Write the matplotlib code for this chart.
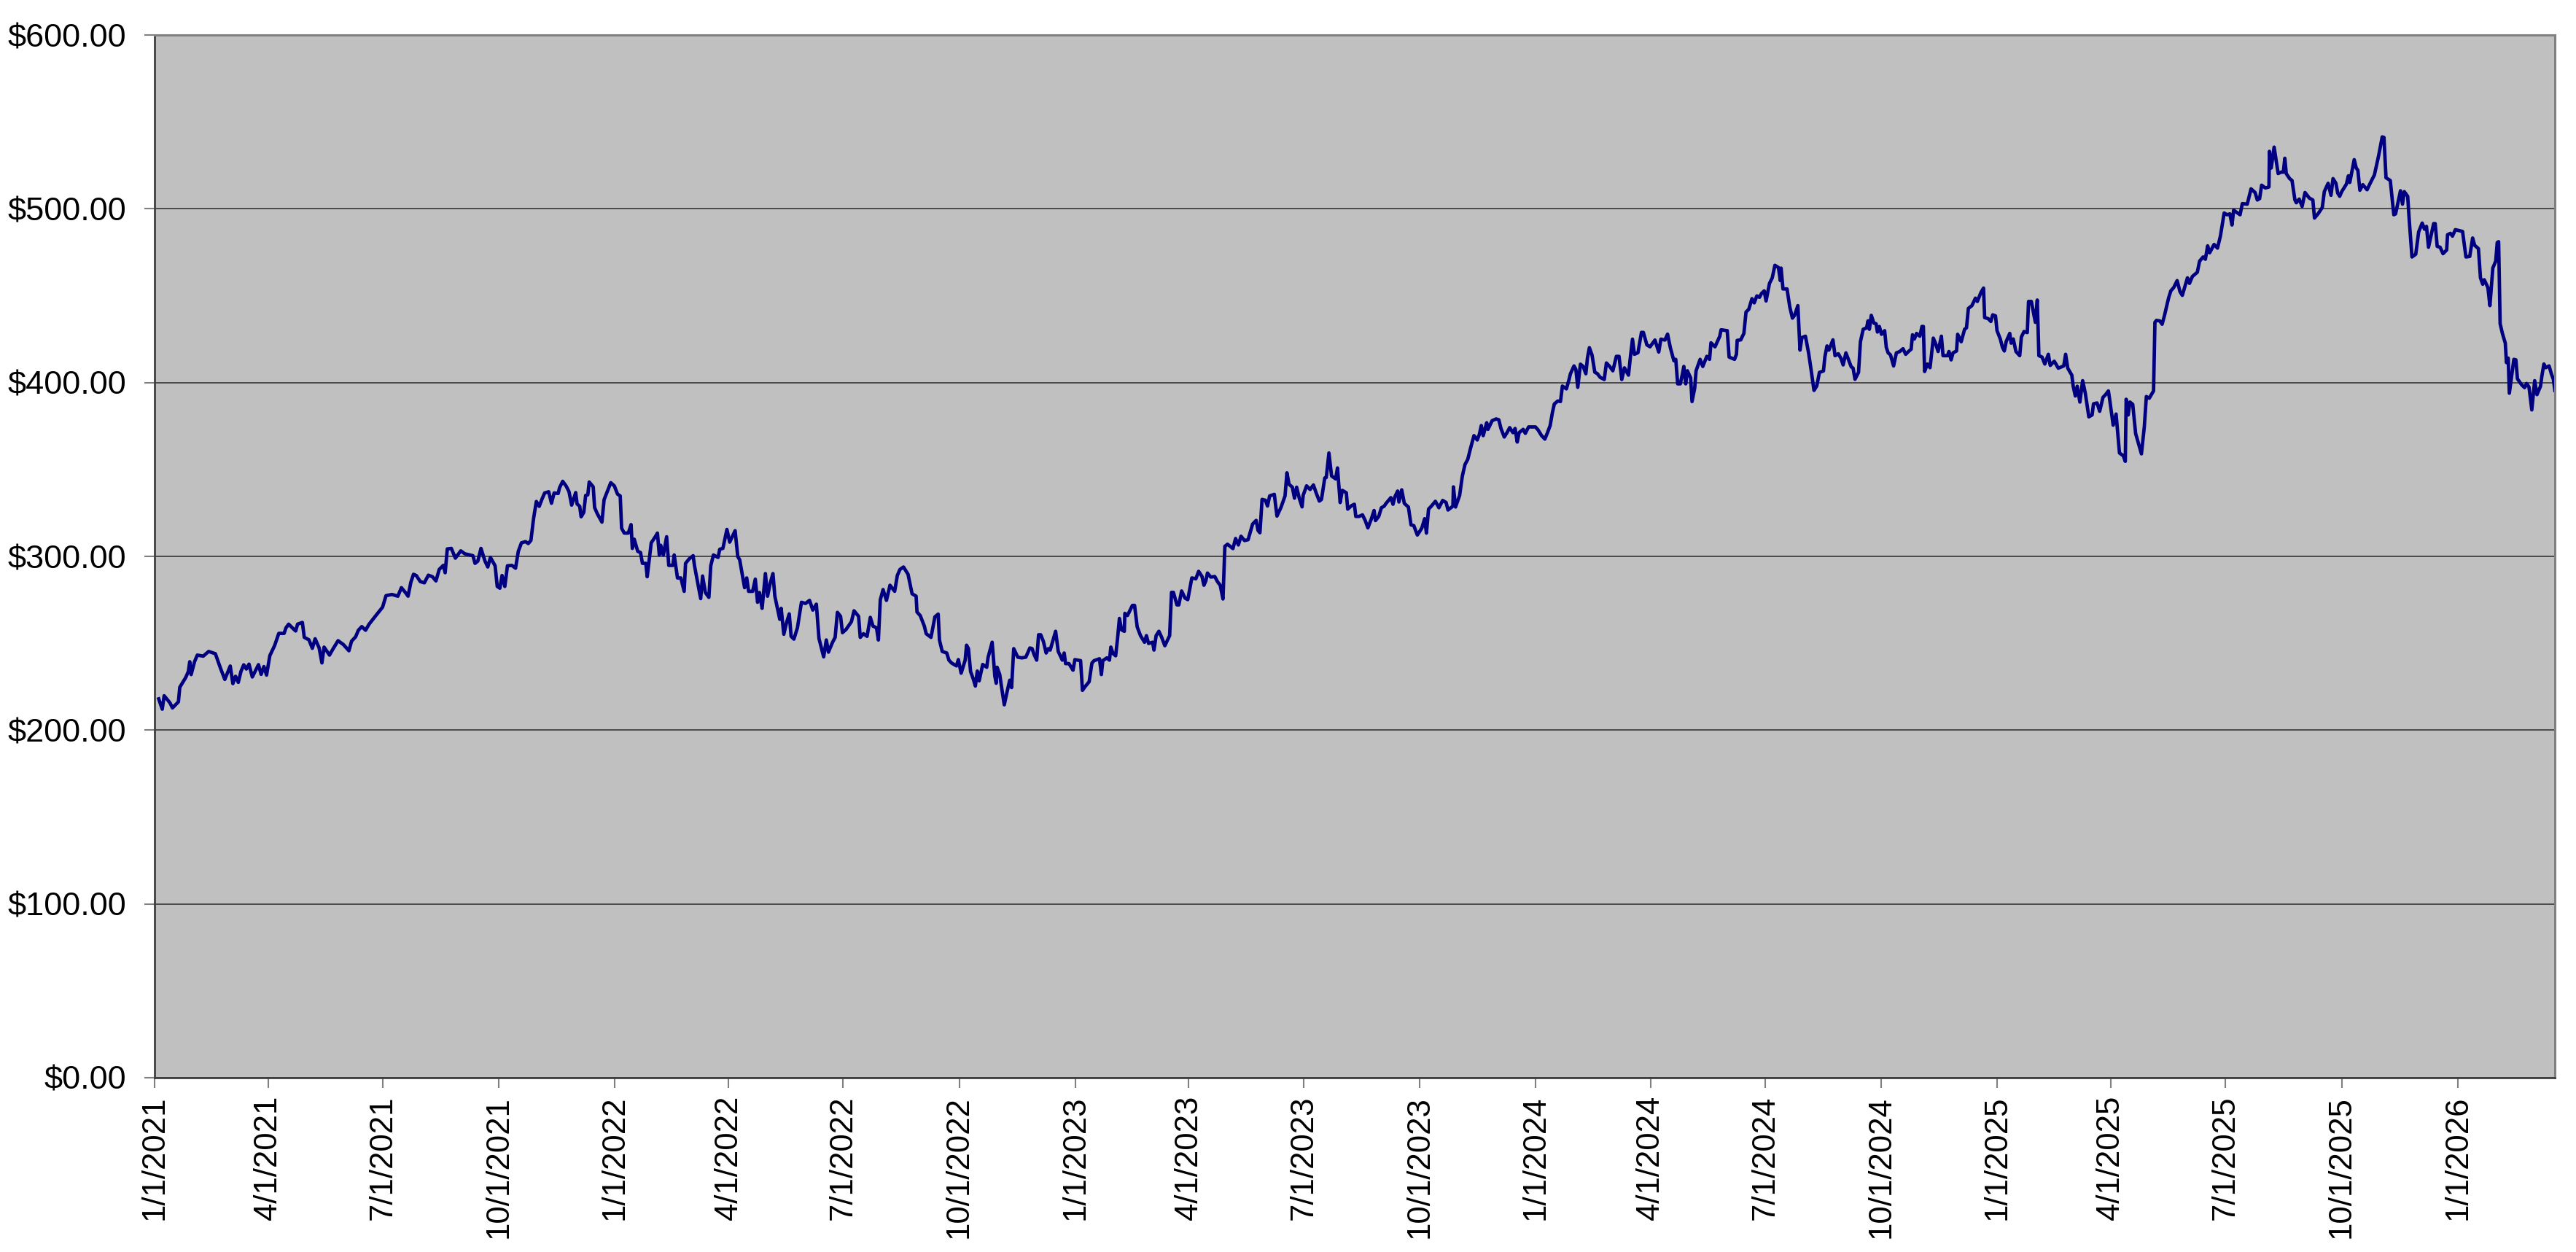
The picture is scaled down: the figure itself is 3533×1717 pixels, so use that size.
import matplotlib
matplotlib.use('Agg')

import matplotlib.pyplot as plt
import matplotlib.ticker as mticker
import numpy as np
import pandas as pd

START = pd.Timestamp('2021-01-01')

# trading days as day offsets from 1/1/2021, closing price
days_2021 = [3.3, 6.1, 7.6, 10.8, 12.3, 14.2, 18.9, 20.0, 24.7, 26.8, 27.9, 29.0, 31.7, 33.9, 38.6, 42.9,
             48.2, 52.5, 55.7, 60.0, 62.1, 64.2, 66.4, 68.5, 70.7, 72.8, 74.9, 77.5, 82.4, 84.5, 86.7, 88.8,
             91.4, 95.2, 98.5, 102.7, 104.2, 106.3, 110.2, 111.9, 113.4, 117.2, 118.7, 122.4, 125.1, 127.3,
             130.5, 132.7, 134.4, 138.7, 141.2, 145.5, 149.8, 154.1, 156.2, 159.4, 161.6, 164.3, 167.3, 170.1,
             175.4, 180.8, 183.5, 188.2, 192.9, 195.7, 198.9, 201.0, 203.2, 205.3, 207.5, 210.7, 213.9, 217.1,
             220.3, 223.1, 225.7, 228.9, 230.4, 232.1, 235.3, 238.5, 242.8, 246.0, 252.4, 254.1, 256.3, 258.8,
             262.0, 264.2, 266.3, 270.0, 271.7, 273.8, 275.5, 277.7, 279.8, 283.4, 286.2, 288.4, 290.9, 294.1,
             296.3, 298.4, 300.5, 302.7, 305.0, 307.2, 309.3, 312.5, 314.7, 316.8, 320.0, 321.1, 323.6, 326.4,
             328.6, 330.7, 333.9, 335.0, 337.1, 338.2, 340.3, 341.8, 343.5, 344.6, 347.8, 348.9, 351.0, 354.7,
             356.4, 361.7, 364.5]
close_2021 = [218.0, 212.1, 219.8, 217.0, 215.6, 212.8, 216.3, 224.7, 230.3, 233.8, 239.4, 232.0, 239.4, 243.2,
              242.6, 245.3, 244.0, 235.2, 229.2, 236.9, 226.8, 231.0, 227.5, 233.8, 237.6, 235.2, 238.0, 230.6,
              237.7, 232.1, 236.6, 231.7, 242.9, 248.7, 255.7, 255.7, 258.9, 261.0, 258.2, 257.1, 261.0, 262.0,
              253.4, 252.0, 247.1, 252.6, 247.3, 238.7, 247.8, 243.2, 246.4, 251.5, 249.2, 245.7, 251.2, 253.7,
              257.5, 259.6, 257.5, 261.0, 265.9, 270.8, 277.4, 278.1, 277.1, 282.0, 279.2, 277.1, 285.1, 289.7,
              289.0, 285.5, 284.8, 289.2, 288.3, 285.9, 292.5, 294.8, 290.6, 304.3, 304.6, 299.0, 303.2, 301.5,
              300.4, 296.0, 297.3, 304.6, 297.3, 293.9, 299.4, 294.6, 282.7, 281.7, 289.0, 282.7, 294.6, 294.8,
              293.2, 302.9, 307.8, 308.5, 307.4, 309.2, 321.8, 331.6, 328.8, 333.0, 336.5, 337.2, 330.6, 336.5,
              336.2, 339.5, 343.2, 340.4, 337.2, 329.5, 336.7, 330.2, 328.8, 322.8, 325.3, 335.1, 335.4, 342.8,
              340.0, 328.1, 324.6, 319.7, 332.6, 342.4, 340.6]

days_2022 = [367.1, 369.2, 370.3, 372.4, 375.6, 377.8, 378.8, 380.3, 383.1, 385.3, 386.8, 389.5, 390.6, 393.8,
             397.0, 398.7, 400.2, 401.3, 403.4, 406.0, 407.7, 410.9, 412.0, 414.6, 417.3, 419.9, 421.0, 423.8,
             427.0, 428.1, 433.0, 434.5, 436.7, 439.5, 441.0, 443.1, 446.8, 448.1, 450.6, 453.8, 456.0, 460.3,
             462.4, 463.9, 467.8, 469.5, 471.0, 474.2, 476.3, 478.1, 479.6, 481.7, 484.3, 486.0, 488.2, 490.3,
             491.8, 495.7, 496.8, 498.9, 501.0, 503.2, 504.7, 506.9, 509.7, 512.9, 516.1, 519.3, 521.9, 524.7,
             526.8, 530.5, 532.6, 534.3, 537.5, 539.6, 541.4, 543.9, 545.4, 548.2, 552.5, 554.6, 558.2, 559.5,
             562.1, 564.9, 567.5, 569.6, 572.4, 573.9, 575.4, 577.6, 580.3, 583.1, 586.8, 588.9, 591.0, 593.8,
             597.4, 600.6, 603.8, 604.5, 607.1, 610.3, 611.8, 615.6, 618.7, 621.3, 622.3, 624.5, 628.1, 629.8,
             632.0, 635.8, 637.3, 639.5, 642.7, 643.8, 645.3, 647.0, 649.1, 650.8, 652.3, 653.8, 656.6, 659.8,
             660.9, 664.1, 666.2, 667.3, 668.0, 670.1, 671.6, 673.7, 675.9, 678.0, 679.5, 681.2, 684.4, 687.6,
             690.8, 694.0, 695.8, 697.3, 699.4, 700.9, 702.6, 704.7, 706.9, 708.6, 710.1, 714.4, 716.5, 719.7,
             721.2, 722.3, 725.0, 728.2, 729.7]
close_2022 = [335.8, 334.8, 316.2, 313.4, 313.4, 318.3, 304.6, 309.9, 302.9, 302.2, 296.0, 296.0, 288.3, 307.8,
              311.3, 313.4, 300.8, 306.4, 300.8, 311.3, 294.8, 294.8, 300.8, 287.6, 287.6, 279.9, 296.0, 298.5,
              300.4, 294.6, 275.7, 288.7, 279.2, 276.4, 294.6, 300.8, 299.4, 304.1, 304.6, 315.5, 308.2, 314.8,
              299.9, 298.1, 282.0, 287.6, 279.9, 279.9, 286.9, 273.6, 279.2, 270.1, 290.1, 277.1, 284.8, 290.1,
              277.1, 263.8, 270.1, 255.2, 261.7, 266.9, 254.0, 252.4, 258.9, 273.6, 272.9, 274.7, 269.1, 272.5,
              252.7, 242.2, 251.9, 244.9, 250.5, 253.4, 267.8, 265.5, 256.1, 257.9, 262.4, 268.7, 265.5, 253.4,
              255.5, 254.0, 264.9, 259.9, 258.9, 251.9, 275.0, 280.9, 274.7, 283.4, 279.9, 289.0, 292.5, 293.9,
              289.7, 278.5, 277.1, 268.0, 265.9, 259.9, 255.5, 253.4, 265.2, 266.8, 251.9, 245.3, 244.4, 240.3,
              238.6, 237.0, 240.6, 232.8, 240.3, 248.9, 246.9, 233.7, 229.5, 225.4, 234.0, 228.4, 237.8, 236.2,
              242.0, 250.6, 231.2, 227.0, 236.2, 232.0, 224.5, 214.6, 222.0, 228.7, 224.5, 246.9, 242.0, 241.6,
              242.0, 247.3, 246.9, 243.6, 240.3, 254.9, 254.9, 251.1, 244.4, 246.9, 246.1, 256.9, 245.3, 240.3,
              244.4, 238.3, 238.3, 234.5, 240.6]

days_2023 = [734.2, 735.7, 737.2, 741.0, 743.2, 744.9, 749.2, 750.7, 751.8, 755.0, 757.1, 758.2, 759.9, 762.0,
             763.5, 765.0, 766.7, 768.9, 769.3, 771.4, 775.3, 777.0, 779.1, 781.7, 784.9, 786.4, 788.1, 791.3,
             792.4, 794.1, 796.3, 798.4, 801.0, 804.8, 806.3, 807.8, 810.6, 812.1, 814.3, 817.0, 819.2, 822.4,
             825.6, 827.8, 830.5, 832.0, 833.5, 834.8, 837.4, 840.6, 842.8, 844.9, 847.1, 848.6, 850.7, 855.0,
             857.1, 859.3, 861.4, 864.2, 867.0, 870.6, 873.4, 874.9, 876.4, 878.1, 880.7, 882.4, 884.1, 887.8,
             889.9, 893.1, 896.3, 897.8, 899.5, 902.1, 903.8, 905.5, 907.7, 909.8, 910.7, 913.4, 916.2, 918.8,
             921.0, 923.5, 925.2, 927.8, 929.0, 931.1, 933.2, 936.4, 937.9, 940.0, 941.7, 944.9, 946.0, 949.2,
             951.3, 952.4, 955.0, 957.7, 959.9, 962.0, 964.8, 966.9, 968.0, 970.6, 972.7, 974.9, 976.4, 980.2,
             981.9, 983.4, 985.6, 986.6, 988.8, 990.9, 994.1, 996.2, 998.4, 1001.2, 1002.7, 1004.8, 1007.0,
             1008.4, 1010.1, 1012.3, 1015.5, 1018.3, 1021.3, 1024.0, 1025.5, 1029.4, 1029.8, 1031.5, 1034.7,
             1036.9, 1039.0, 1041.2, 1043.3, 1046.1, 1048.7, 1050.4, 1051.9, 1053.4, 1056.2, 1057.2, 1060.5,
             1063.7, 1065.8, 1067.5, 1070.1, 1072.3, 1074.4, 1077.0, 1078.7, 1080.4, 1081.9, 1085.1, 1086.8,
             1089.4, 1094.8]
close_2023 = [240.0, 222.9, 224.5, 227.9, 238.6, 240.0, 241.1, 232.0, 240.0, 241.6, 240.3, 247.8, 244.1, 242.8,
              252.7, 264.3, 257.7, 256.9, 267.2, 266.0, 271.8, 271.8, 259.4, 254.4, 250.6, 254.4, 249.9, 250.6,
              246.1, 254.4, 256.9, 253.6, 248.6, 254.4, 279.3, 279.3, 272.1, 272.1, 280.1, 276.0, 275.1, 287.6,
              287.1, 291.4, 288.4, 283.4, 285.9, 290.4, 288.1, 288.4, 285.4, 283.4, 275.5, 305.8, 307.0, 304.5,
              310.3, 306.6, 311.6, 309.1, 309.6, 318.6, 320.7, 314.9, 313.6, 332.8, 332.3, 329.0, 334.8, 335.7,
              323.2, 328.2, 334.8, 348.1, 341.5, 339.8, 333.5, 339.8, 333.2, 328.5, 335.2, 340.6, 338.5, 341.1,
              336.5, 331.8, 332.8, 345.1, 345.4, 359.5, 346.3, 344.6, 350.9, 331.0, 338.0, 336.6, 327.2, 329.3,
              330.0, 323.0, 323.0, 323.9, 320.6, 316.4, 321.7, 326.4, 320.6, 323.0, 328.0, 328.9, 330.5, 333.8,
              330.0, 334.3, 337.6, 331.3, 338.3, 330.5, 328.4, 318.1, 317.7, 312.3, 313.9, 316.4, 321.7,
              313.4, 327.2, 328.9, 331.7, 328.0, 332.2, 331.0, 326.7, 328.9, 340.0, 328.4, 335.0,
              346.3, 352.9, 355.9, 362.0, 369.5, 367.0, 370.3, 375.3, 369.5, 376.9, 373.1, 378.1,
              379.1, 378.6, 373.6, 368.7, 371.2, 374.1, 371.2, 373.6, 365.8, 371.2, 373.1, 370.8,
              374.5, 374.5]

days_2024 = [1096.9, 1099.7, 1102.3, 1104.4, 1106.5, 1108.3, 1109.8, 1112.5, 1114.7, 1116.2, 1119.4, 1121.5,
             1122.6, 1125.4, 1126.9, 1128.4, 1130.5, 1132.7, 1134.8, 1136.1, 1137.6, 1139.7, 1141.9, 1144.0,
             1146.2, 1149.4, 1151.1, 1153.7, 1156.2, 1159.0, 1161.1, 1163.3, 1165.4, 1168.6, 1170.3, 1171.8,
             1173.3, 1176.1, 1178.9, 1180.4, 1183.2, 1185.7, 1189.6, 1192.6, 1194.3, 1197.5, 1199.6, 1201.8,
             1204.6, 1206.1, 1207.6, 1209.7, 1211.4, 1212.5, 1214.0, 1215.3, 1217.9, 1219.0, 1221.1, 1222.2,
             1225.4, 1227.5, 1230.7, 1232.9, 1234.0, 1237.2, 1241.0, 1242.0, 1246.9, 1248.4, 1252.7, 1254.2,
             1254.8, 1257.6, 1260.1, 1261.8, 1264.0, 1266.5, 1268.3, 1270.4, 1272.5, 1274.0, 1276.2, 1277.7,
             1280.4, 1282.6, 1284.7, 1287.5, 1289.0, 1289.6, 1291.1, 1294.3, 1296.5, 1298.6, 1300.3, 1302.9,
             1304.6, 1306.1, 1308.9, 1311.4, 1313.2, 1315.7, 1317.9, 1320.0, 1323.2, 1324.3, 1326.0, 1327.5,
             1330.7, 1332.4, 1335.0, 1337.1, 1338.8, 1341.0, 1342.5, 1345.2, 1346.7, 1348.2, 1351.0, 1352.5,
             1354.7, 1357.4, 1358.5, 1359.6, 1361.1, 1363.2, 1364.9, 1366.0, 1367.5, 1369.2, 1371.7, 1373.0,
             1374.5, 1376.3, 1378.8, 1381.0, 1383.7, 1386.3, 1388.4, 1390.6, 1392.7, 1393.8, 1395.3, 1397.0,
             1399.6, 1401.3, 1402.4, 1403.4, 1405.6, 1407.7, 1410.3, 1412.0, 1414.1, 1416.7, 1418.0, 1421.6,
             1422.7, 1424.4, 1425.9, 1428.7, 1429.6, 1432.4, 1435.1, 1436.6, 1438.1, 1440.9, 1443.7, 1445.2,
             1448.0, 1450.1, 1451.0, 1453.8, 1455.9, 1457.4, 1459.6, 1460.8]
close_2024 = [372.8, 369.5, 367.5, 371.2, 375.3, 382.8, 387.7, 389.4, 389.1, 398.0, 396.4, 401.8,
              405.1, 409.6, 407.6, 397.3, 410.6, 409.3, 405.1, 414.3, 420.1, 415.9, 406.0, 405.1,
              403.0, 401.8, 411.3, 409.3, 406.8, 415.1, 415.1, 401.8, 408.5, 404.3, 415.9, 425.0,
              416.3, 417.2, 428.9, 428.9, 421.7, 420.6, 424.5, 417.6, 425.0, 424.5, 427.9, 420.1,
              412.6, 413.4, 399.3, 399.3, 405.1, 409.3, 399.3, 406.8, 402.7, 389.1, 396.8, 406.8,
              413.4, 409.3, 415.1, 413.4, 422.9, 420.6, 426.7, 430.4, 429.9, 414.7, 413.4, 416.3,
              424.3, 424.6, 428.3, 440.6, 442.2, 448.3, 445.9, 449.9, 449.1, 451.2, 452.8, 447.0,
              457.1, 460.3, 467.5, 466.2, 458.7, 465.9, 453.9, 453.9, 443.5, 437.1, 438.7, 444.3,
              418.7, 425.9, 426.7, 417.1, 408.3, 395.5, 398.1, 405.9, 406.7, 414.7, 421.1, 418.7,
              424.6, 415.5, 416.6, 413.9, 410.2, 417.1, 414.2, 409.1, 408.3, 401.9, 405.9, 423.5,
              430.7, 431.5, 435.5, 430.7, 438.7, 434.2, 433.9, 429.1, 432.3, 427.8, 429.9, 420.3,
              417.1, 416.0, 409.6, 417.1, 417.9, 419.5, 416.3, 417.9, 419.2, 427.5, 425.1, 428.3,
              426.7, 432.3, 432.3, 406.4, 410.7, 408.6, 425.6, 422.7, 417.9, 426.7, 415.5, 415.5,
              417.9, 413.1, 417.1, 418.2, 427.8, 423.5, 430.7, 431.5, 442.7, 444.3, 448.6, 446.7,
              451.8, 454.4, 437.4, 436.8, 435.2, 439.0, 438.4, 429.9]

days_2025 = [1463.4, 1465.1, 1466.6, 1468.1, 1470.9, 1472.0, 1473.7, 1475.8, 1478.8, 1480.1, 1482.2, 1484.8,
             1485.8, 1488.0, 1491.2, 1492.7, 1494.0, 1496.5, 1498.7, 1501.5, 1503.0, 1506.2, 1509.4, 1513.7,
             1515.2, 1516.9, 1520.1, 1521.2, 1522.9, 1524.4, 1526.5, 1528.7, 1530.8, 1533.6, 1536.2, 1537.3,
             1540.1, 1542.2, 1544.8, 1546.9, 1549.1, 1550.1, 1552.9, 1555.2, 1557.9, 1560.9, 1562.5, 1563.2,
             1564.8, 1566.2, 1568.4, 1570.7, 1575.3, 1577.6, 1579.2, 1581.5, 1584.9, 1586.0, 1587.2, 1589.9,
             1591.7, 1593.6, 1596.8, 1598.6, 1600.9, 1603.6, 1605.9, 1607.7, 1611.8, 1613.4, 1615.7, 1619.6,
             1621.4, 1624.2, 1626.0, 1627.8, 1629.4, 1632.9, 1635.6, 1637.9, 1640.9, 1643.2, 1645.4, 1647.1,
             1648.4, 1653.5, 1655.3, 1659.2, 1660.3, 1662.2, 1665.4, 1667.2, 1669.0, 1670.6, 1673.6, 1676.4,
             1676.8, 1678.2, 1680.5, 1683.7, 1686.0, 1687.8, 1689.0, 1690.1, 1692.8, 1694.7, 1697.0, 1698.1,
             1700.4, 1702.7, 1705.0, 1708.4, 1711.2, 1712.5, 1715.3, 1718.7, 1720.3, 1723.3, 1725.6, 1727.2,
             1729.5, 1730.9, 1732.5, 1734.1, 1737.8, 1739.4, 1740.5, 1744.0, 1745.6, 1746.9, 1748.5, 1750.8,
             1754.2, 1757.0, 1760.0, 1763.4, 1766.2, 1767.6, 1769.2, 1772.6, 1775.4, 1776.8, 1780.7, 1782.3,
             1783.7, 1786.4, 1787.6, 1789.8, 1792.8, 1795.1, 1797.9, 1799.7, 1801.3, 1802.9, 1807.0, 1808.2,
             1809.8, 1812.1, 1814.4, 1817.3, 1818.0, 1820.3, 1821.9, 1824.2]
close_2025 = [425.1, 420.3, 418.2, 423.7, 428.3, 422.7, 425.1, 417.9, 415.5, 426.2, 429.4, 428.8,
              446.7, 446.7, 434.7, 447.5, 415.5, 414.7, 410.7, 416.3, 409.9, 412.3, 408.3, 409.6,
              416.3, 408.3, 404.3, 397.9, 392.3, 397.9, 388.8, 401.1, 393.9, 380.3, 381.4, 387.8,
              388.3, 383.5, 391.5, 393.1, 395.2, 390.4, 375.5, 381.9, 359.5, 357.9, 354.7, 390.4,
              381.4, 388.8, 387.5, 370.7, 359.0, 374.7, 392.0, 391.0, 395.2, 434.7, 435.8, 435.5,
              433.6, 438.7, 448.6, 452.8, 454.7, 458.7, 452.3, 450.2, 460.3, 457.1, 461.1, 463.5,
              469.9, 472.3, 471.0, 478.7, 474.7, 479.5, 477.4, 484.3, 497.6, 496.6, 497.1, 490.7,
              499.2, 496.6, 503.0, 502.7, 505.9, 511.5, 509.4, 505.1, 505.9, 513.6, 512.0, 512.6,
              533.1, 523.5, 535.5, 520.3, 521.1, 521.1, 529.1, 520.3, 517.4, 516.3, 505.1, 503.5,
              505.6, 501.4, 509.4, 506.2, 505.1, 494.7, 497.1, 500.8, 509.9, 514.7, 507.8, 517.4,
              514.7, 509.1, 507.2, 509.9, 514.2, 519.0, 515.2, 528.3, 523.5, 522.2, 510.7, 513.9,
              511.0, 515.2, 519.5, 530.7, 541.4, 541.1, 517.9, 516.3, 496.6, 497.1, 510.4, 502.7,
              509.9, 507.2, 493.9, 472.3, 473.9, 486.7, 491.8, 488.3, 489.9, 477.9, 491.5, 491.5,
              478.4, 477.9, 474.2, 476.3, 485.1, 485.9, 484.3, 488.0]

days_2026 = [1829.9, 1832.6, 1835.6, 1837.9, 1839.5, 1842.5, 1844.1, 1845.9, 1847.1, 1850.0, 1851.6, 1853.9,
             1856.2, 1857.4, 1858.5, 1859.7, 1861.5, 1863.8, 1864.7, 1866.1, 1867.0, 1870.6, 1872.2, 1873.4,
             1876.8, 1879.1, 1880.7, 1882.6, 1884.8, 1887.1, 1888.9, 1891.7, 1892.8, 1894.4, 1895.8, 1898.5,
             1900.3, 1901.9, 1903.1]
close_2026 = [487.0, 472.3, 472.6, 483.2, 479.0, 477.1, 460.3, 456.6, 459.2, 454.7, 444.3, 465.9,
              469.9, 480.6, 481.1, 433.9, 428.3, 422.7, 411.5, 414.1, 393.9, 413.4, 413.1, 402.2,
              398.7, 397.1, 399.5, 397.4, 384.3, 401.1, 393.1, 397.9, 403.8, 410.7, 408.6, 409.6,
              405.1, 401.9, 395.5]

y_ticks = [0, 100, 200, 300, 400, 500, 600]
tick_dates = pd.date_range('2021-01-01', '2026-01-01', freq='QS')
tick_labels = [f'{d.month}/{d.day}/{d.year}' for d in tick_dates]

days = np.concatenate([days_2021, days_2022, days_2023, days_2024, days_2025, days_2026])
close = np.concatenate([close_2021, close_2022, close_2023, close_2024, close_2025, close_2026])
dates = START + pd.to_timedelta(days, unit='D')

plt.rcParams['font.family'] = ['Liberation Sans', 'DejaVu Sans']

fig = plt.figure(figsize=(35.33, 17.17), dpi=100)
ax = fig.add_axes([0.0600, 0.1392, 0.9318, 0.8328])
ax.set_facecolor('#C0C0C0')

ax.plot(dates, close, color='#000080', linewidth=3.4)

ax.set_xlim(START, dates[-1])
ax.set_ylim(0, 600)
ax.set_yticks(y_ticks)
ax.yaxis.set_major_formatter(mticker.FuncFormatter(lambda v, p: f'${v:,.2f}'))
ax.set_xticks(tick_dates)
ax.set_xticklabels(tick_labels, rotation=90)

ax.yaxis.grid(True, color='#4a4a4a', linewidth=1.4)
ax.set_axisbelow(True)

for side in ['top', 'right']:
    ax.spines[side].set_color('#808080')
    ax.spines[side].set_linewidth(2.2)
for side in ['left', 'bottom']:
    ax.spines[side].set_color('#404040')
    ax.spines[side].set_linewidth(2.0)

ax.tick_params(axis='both', direction='out', length=10, width=1.5, color='#808080')
ax.tick_params(axis='y', pad=18, labelsize=32.5)
ax.tick_params(axis='x', pad=8, labelsize=31.5)

fig.savefig('out.png', dpi=100)
plt.close(fig)
